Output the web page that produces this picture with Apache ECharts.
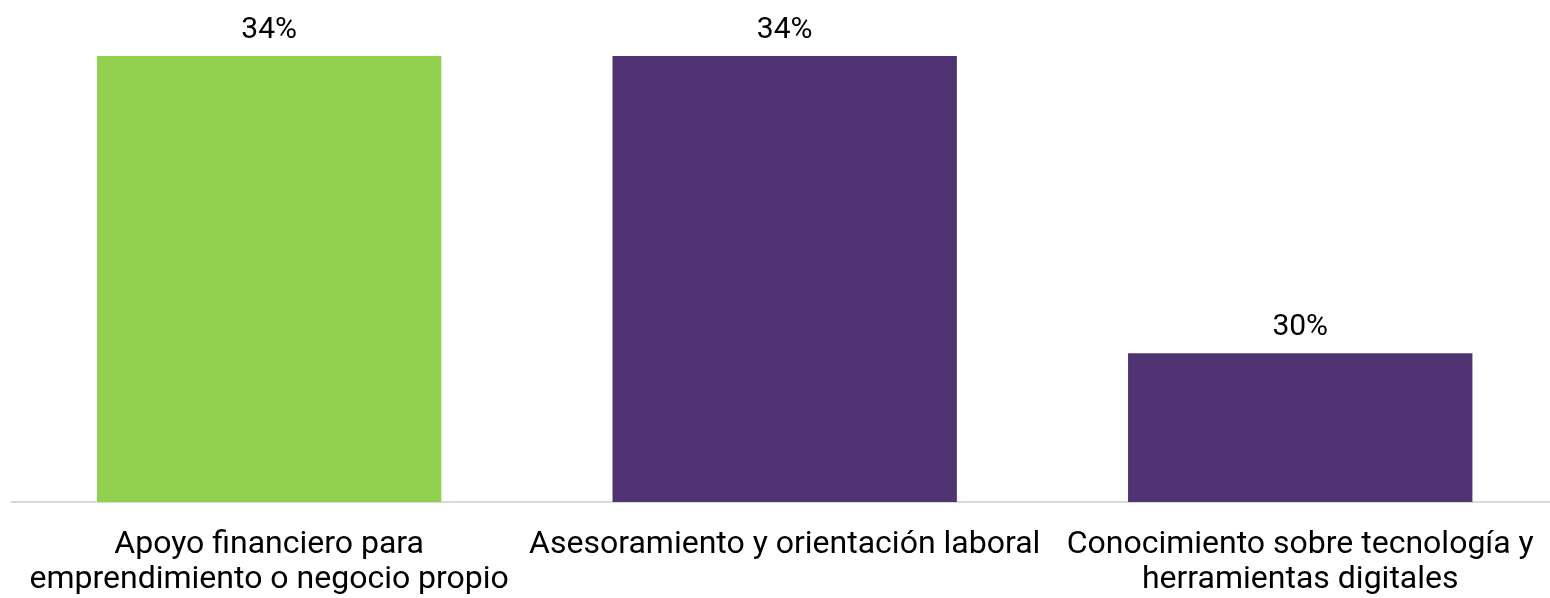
<!DOCTYPE html>
<html>
<head>
<meta charset="utf-8">
<script src="https://cdn.jsdelivr.net/npm/echarts@6/dist/echarts.min.js"></script>
<style>html,body{margin:0;padding:0;background:#fff;overflow:hidden;width:1550px;height:598px}#c{width:1558px;height:598px}</style>
</head>
<body>
<div id="c"></div>
<script>
const categories = [
  'Apoyo financiero para\nemprendimiento o negocio propio',
  'Asesoramiento y orientación laboral',
  'Conocimiento sobre tecnología y\nherramientas digitales'
];
const values = [34, 34, 30];
const barColors = ['#92d050', '#503372', '#503372'];

const chart = echarts.init(document.getElementById('c'), null, {renderer: 'canvas'});
chart.setOption({
  animation: false,
  backgroundColor: '#ffffff',
  grid: {left: 11.4, right: 0, top: 56, height: 446, containLabel: false},
  xAxis: {
    type: 'category',
    data: categories,
    axisLine: {show: true, lineStyle: {color: '#d9d9d9', width: 2}},
    axisTick: {show: false},
    axisLabel: {
      interval: 0,
      margin: 25,
      color: '#000000',
      fontFamily: 'Roboto',
      fontSize: 32,
      lineHeight: 35
    }
  },
  yAxis: {
    type: 'value',
    min: 28,
    max: 34,
    show: false,
    splitLine: {show: false}
  },
  series: [{
    type: 'bar',
    data: values.map((v, i) => ({value: v, itemStyle: {color: barColors[i]}})),
    barWidth: '66.8%',
    label: {
      show: true,
      position: 'top',
      distance: 11,
      formatter: p => p.value + '%',
      color: '#000000',
      fontFamily: 'Roboto',
      fontSize: 30
    }
  }]
});
</script>
</body>
</html>
